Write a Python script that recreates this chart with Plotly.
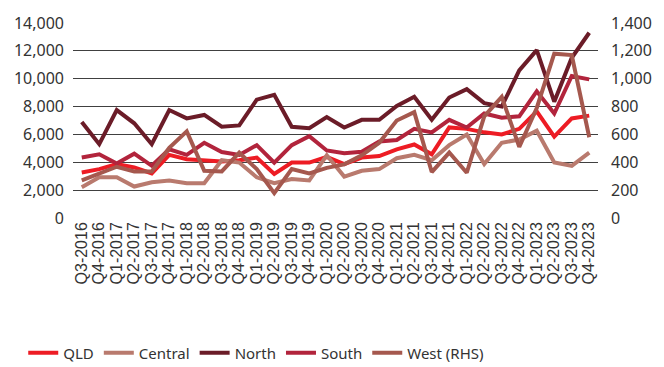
import plotly.graph_objects as go

# Quarterly categories, Q3-2016 .. Q4-2023
quarters = []
for year in range(2016, 2024):
    for q in range(1, 5):
        if year == 2016 and q < 3:
            continue
        quarters.append(f"Q{q}-{year}")

qld = [3270, 3510, 3870, 3630, 3200, 4530, 4220, 4150, 4050, 4150,
       4340, 3160, 3980, 3980, 4380, 3870, 4340, 4450, 4930, 5280,
       4570, 6500, 6400, 6150, 6000, 6400, 7650, 5850, 7150, 7350]
central = [2210, 2920, 2920, 2260, 2570, 2690, 2500, 2500, 4150, 3980,
           2920, 2500, 2800, 2690, 4500, 2970, 3390, 3510, 4290, 4530,
           4150, 5230, 5990, 3870, 5400, 5630, 6270, 3980, 3750, 4690]
north = [6900, 5300, 7750, 6800, 5300, 7750, 7150, 7400, 6550, 6650,
         8500, 8850, 6550, 6450, 7250, 6500, 7050, 7050, 8050, 8700,
         7050, 8650, 9250, 8250, 8000, 10600, 12050, 8350, 11500, 13300]
south = [4340, 4570, 3910, 4620, 3750, 4930, 4530, 5400, 4740, 4530,
         5230, 3980, 5230, 5870, 4850, 4650, 4750, 5500, 5600, 6400,
         6150, 7050, 6500, 7500, 7200, 7300, 9100, 7500, 10200, 9950]
west_rhs = [270, 316, 368, 334, 334, 504, 622, 339, 334, 469,
            351, 179, 351, 320, 360, 385, 450, 540, 700, 760,
            330, 470, 325, 730, 870, 510, 790, 1180, 1170, 580]

left_ticks = list(range(0, 14001, 2000))
right_ticks = list(range(0, 1401, 200))

series = [
    ("QLD", qld, "#ed1c24", "y"),
    ("Central", central, "#b97a6e", "y"),
    ("North", north, "#6b1c28", "y"),
    ("South", south, "#b2243c", "y"),
    ("West (RHS)", west_rhs, "#a5584e", "y2"),
]

fig = go.Figure()
for name, vals, color, axis in series:
    fig.add_trace(go.Scatter(
        x=quarters, y=vals, name=name, mode="lines", yaxis=axis,
        line=dict(color=color, width=4),
    ))

tick_font = dict(family="Noto Sans, Open Sans, sans-serif", size=16, color="#333333")

fig.update_layout(
    width=664, height=367,
    margin=dict(l=73, r=58, t=20, b=149),
    paper_bgcolor="white", plot_bgcolor="white",
    showlegend=True,
    legend=dict(
        orientation="h", xref="container", yref="container",
        x=0.035, xanchor="left", y=0.038, yanchor="middle",
        font=dict(family="Noto Sans, sans-serif", size=15, color="#333333"),
        bgcolor="rgba(0,0,0,0)",
    ),
    xaxis=dict(
        type="category", range=[-0.5, len(quarters) - 0.5],
        tickmode="array", tickvals=quarters, ticktext=quarters,
        tickangle=-90, showgrid=False, zeroline=False,
        showline=False, ticks="",
        tickfont=dict(family="Liberation Sans, Arial, sans-serif", size=16, color="#333333"),
    ),
    yaxis=dict(
        range=[0, 14000], tickvals=left_ticks,
        ticktext=[f"{v:,}" for v in left_ticks],
        showgrid=True, gridcolor="#404040", gridwidth=1,
        zeroline=False, showline=False, ticks="",
        ticklabelstandoff=8, tickfont=tick_font,
    ),
    yaxis2=dict(
        overlaying="y", side="right", range=[0, 1400],
        tickvals=right_ticks, ticktext=[f"{v:,}" for v in right_ticks],
        showgrid=False, zeroline=False, showline=False, ticks="",
        ticklabelstandoff=12, tickfont=tick_font,
    ),
)

fig.write_html("out.html")
